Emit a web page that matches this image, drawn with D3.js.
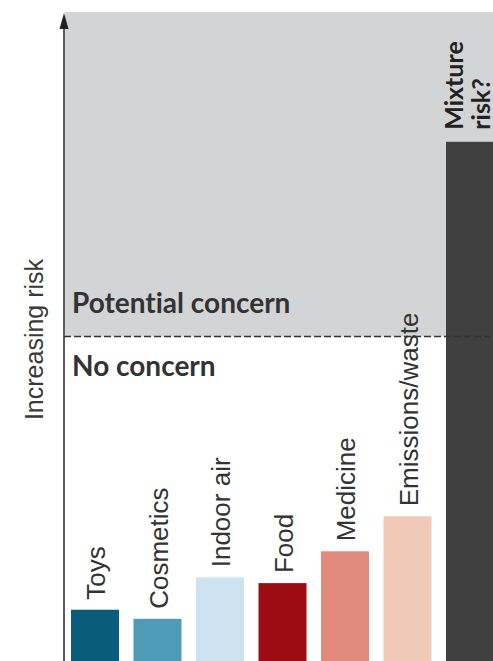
<!DOCTYPE html>
<html>
<head>
<meta charset="utf-8">
<script src="https://cdn.jsdelivr.net/npm/d3@7"></script>
<style>
  html, body { margin: 0; padding: 0; background: #fff; overflow: hidden; }
  svg { display: block; }
  text { font-variant-ligatures: none; font-feature-settings: "liga" 0; }
</style>
</head>
<body>
<svg id="chart" width="493" height="661"></svg>
<script>
// ---- data ----
const categories = ["Toys", "Cosmetics", "Indoor air", "Food", "Medicine", "Emissions/waste", "Mixture"];
const riskValues = [7.9, 6.5, 12.9, 12.0, 16.9, 22.3, 80];
const barColors = ["#0a5c7b", "#4f9bb7", "#cde4f0", "#9c0c13", "#e08a7d", "#f1c9b8", "#404040"];
const concernThreshold = 50;
const zoneLabels = ["Potential concern", "No concern"];
const yAxisLabel = "Increasing risk";
const mixtureLabelLines = ["Mixture", "risk?"];

// ---- layout ----
const W = 493, H = 661;
const svg = d3.select("#chart");

const y = d3.scaleLinear().domain([0, 100]).range([H, 12]);
const x = d3.scaleBand().domain(categories).range([71, 494]).paddingInner(0.232).paddingOuter(0);
const axisX = 64;

// gray "potential concern" zone
svg.append("rect")
  .attr("x", axisX + 1).attr("y", y(100))
  .attr("width", W - axisX).attr("height", y(concernThreshold) - y(100))
  .attr("fill", "#d3d4d6");

// bars
svg.selectAll("rect.bar")
  .data(categories.map((c, i) => ({ c, v: riskValues[i], col: barColors[i] })))
  .join("rect")
  .attr("class", "bar")
  .attr("x", d => x(d.c))
  .attr("y", d => y(d.v))
  .attr("width", x.bandwidth())
  .attr("height", d => y(0) - y(d.v) + 2)
  .attr("fill", d => d.col);

// threshold dashed line
svg.append("line")
  .attr("x1", axisX).attr("x2", W)
  .attr("y1", y(concernThreshold)).attr("y2", y(concernThreshold))
  .attr("stroke", "#333").attr("stroke-width", 1.5)
  .attr("stroke-dasharray", "7,3");

// zone labels
svg.append("text")
  .attr("x", 72).attr("y", y(concernThreshold) - 24)
  .attr("font-family", "Lato, 'Open Sans', sans-serif")
  .attr("font-weight", 700).attr("font-size", 28)
  .attr("fill", "#333")
  .text(zoneLabels[0]);
svg.append("text")
  .attr("x", 72).attr("y", y(concernThreshold) + 39)
  .attr("font-family", "Lato, 'Open Sans', sans-serif")
  .attr("font-weight", 700).attr("font-size", 28)
  .attr("fill", "#333")
  .text(zoneLabels[1]);

// category labels (rotated)
const labelCats = categories.slice(0, 6);
svg.selectAll("text.cat")
  .data(labelCats.map((c, i) => ({ c, v: riskValues[i] })))
  .join("text")
  .attr("class", "cat")
  .attr("transform", d => `translate(${x(d.c) + x.bandwidth() / 2 + 10},${y(d.v) - 10}) rotate(-90)`)
  .attr("font-family", "'Liberation Sans', Arial, sans-serif")
  .attr("font-size", 26)
  .attr("fill", "#333")
  .text(d => d.c);

// mixture label
const mx = x("Mixture");
const mTop = y(riskValues[6]) - 12;
mixtureLabelLines.forEach((t, i) => {
  svg.append("text")
    .attr("transform", `translate(${mx + 17 + i * 27},${mTop}) rotate(-90)`)
    .attr("font-family", "Lato, 'Open Sans', sans-serif")
    .attr("font-weight", 700).attr("font-size", 25)
    .attr("fill", "#222")
    .text(t);
});

// y axis with arrow
svg.append("line")
  .attr("x1", axisX).attr("x2", axisX)
  .attr("y1", H).attr("y2", 24)
  .attr("stroke", "#333").attr("stroke-width", 1.6);
svg.append("path")
  .attr("d", `M${axisX},13 L${axisX + 4.5},29 L${axisX - 4.5},29 Z`)
  .attr("fill", "#222");

// y axis label
svg.append("text")
  .attr("transform", `translate(43,${y(concernThreshold) + 3}) rotate(-90)`)
  .attr("text-anchor", "middle")
  .attr("font-family", "'Liberation Sans', Arial, sans-serif")
  .attr("font-size", 25)
  .attr("fill", "#3a3a3a")
  .text(yAxisLabel);
</script>
</body>
</html>
